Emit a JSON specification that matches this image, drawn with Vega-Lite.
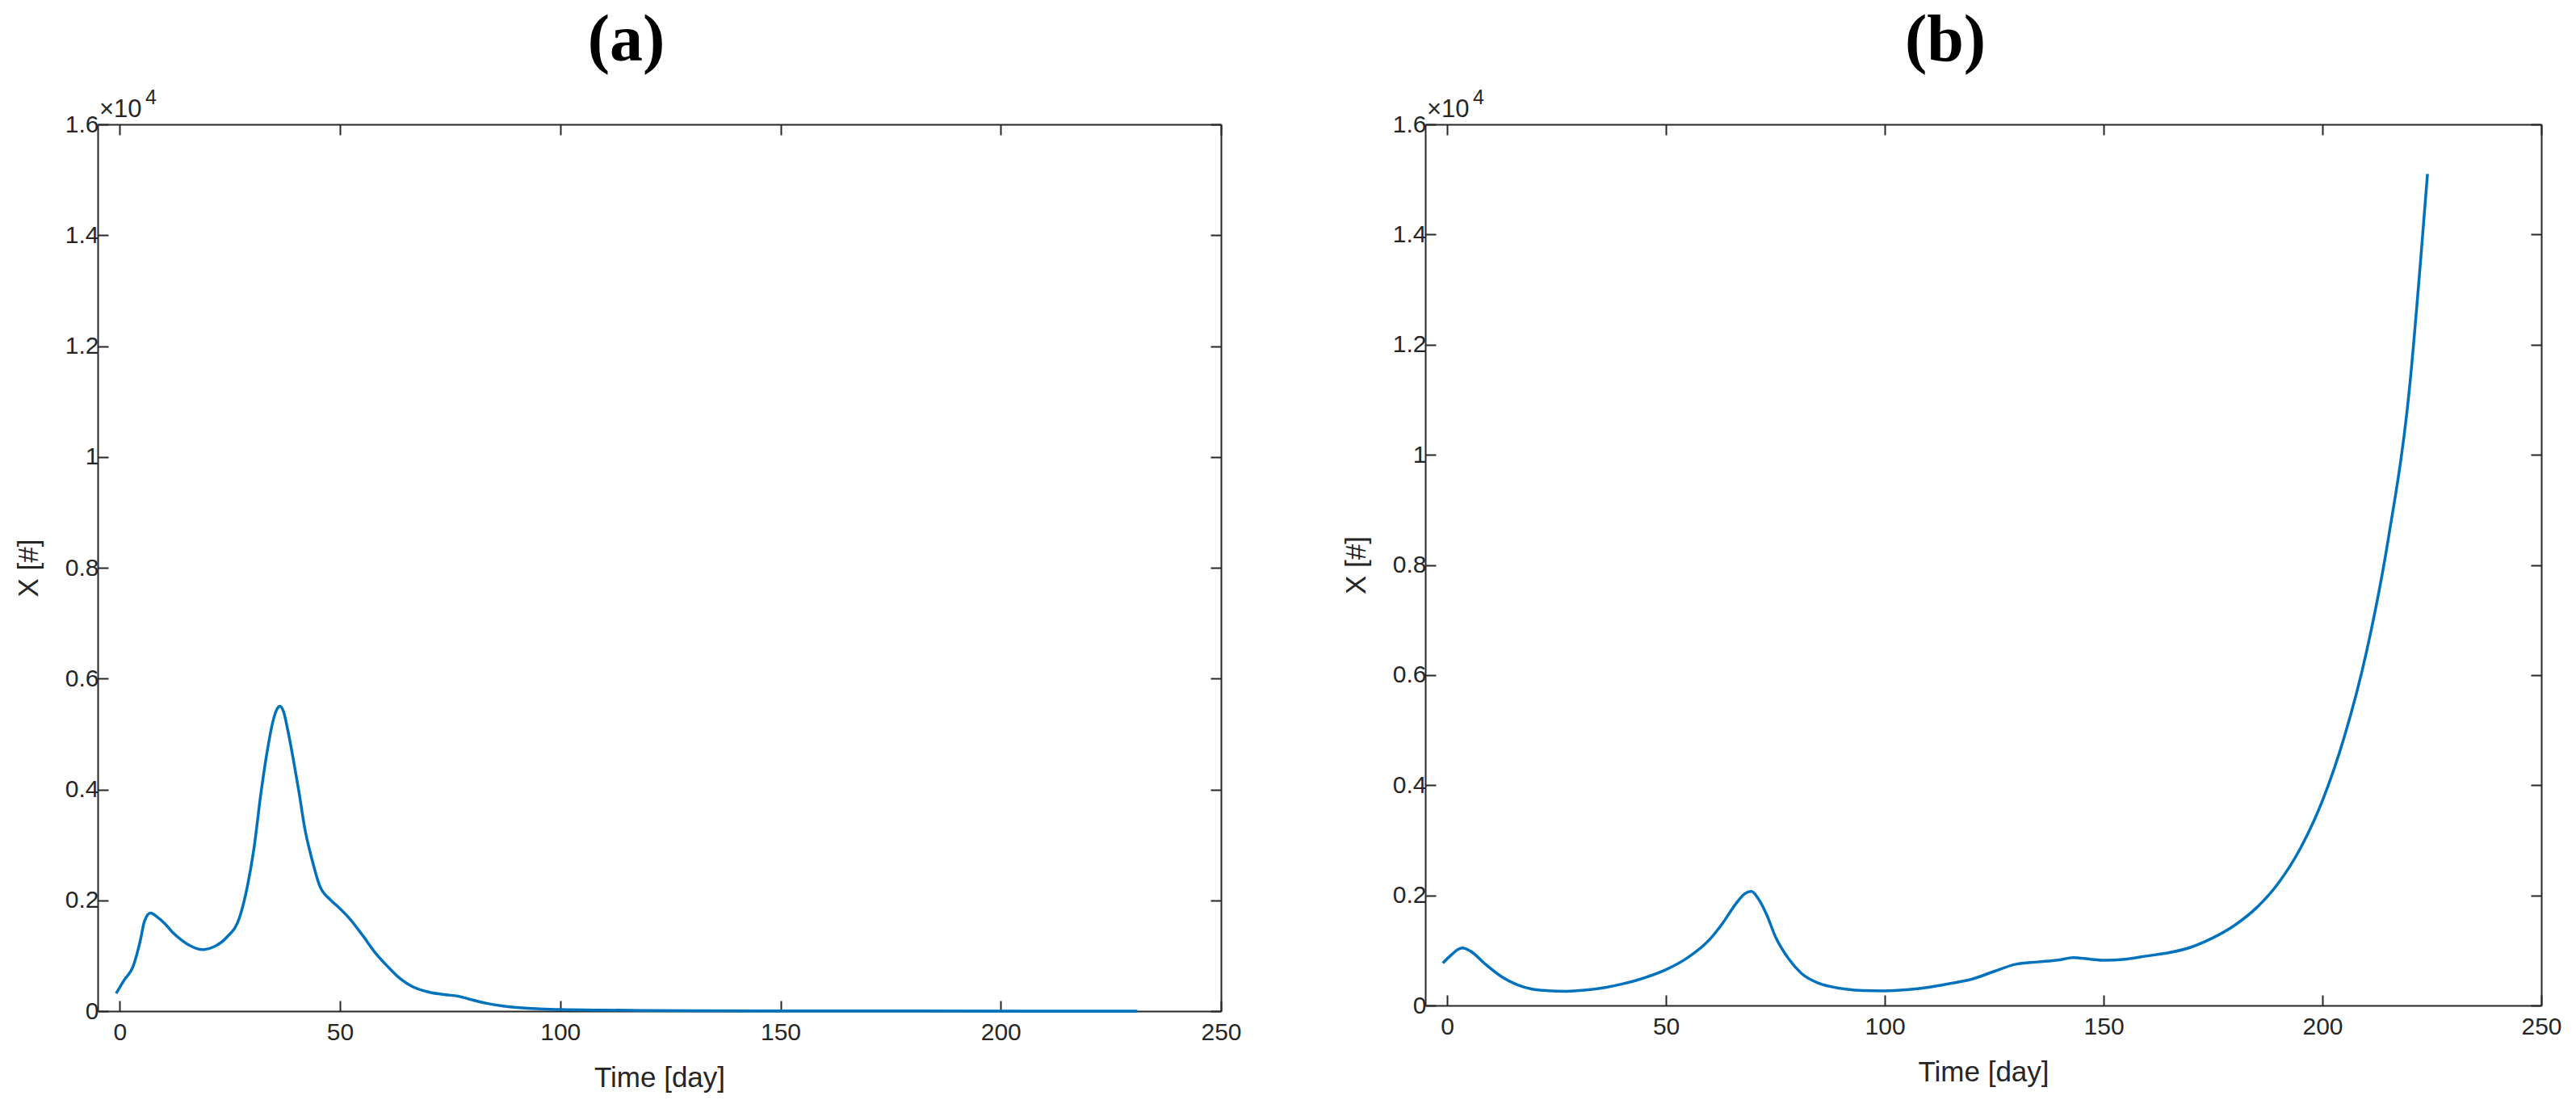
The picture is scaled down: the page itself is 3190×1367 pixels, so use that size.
{
  "$schema": "https://vega.github.io/schema/vega-lite/v6.json",
  "background": "white",
  "padding": {"left": 18, "top": 9, "right": 5, "bottom": 5},
  "config": {
    "view": {"stroke": null},
    "axis": {
      "domainColor": "#262626", "domainWidth": 2,
      "tickColor": "#262626", "tickWidth": 2, "tickSize": -13,
      "labelFont": "Liberation Sans", "labelFontSize": 30, "labelColor": "#262626",
      "labelFlush": false, "labelOverlap": false,
      "titleFont": "Liberation Sans", "titleFontSize": 35, "titleColor": "#262626", "titleFontWeight": "normal",
      "grid": false
    },
    "title": {"font": "Liberation Serif", "fontWeight": "bold", "fontSize": 82, "color": "#000000", "anchor": "middle"}
  },
  "datasets": {
    "a": [
      {"t": -0.8, "v": 320}, {"t": 1, "v": 560}, {"t": 3, "v": 800}, {"t": 4.7, "v": 1285}, {"t": 5.6, "v": 1620},
      {"t": 7, "v": 1770}, {"t": 8.5, "v": 1700}, {"t": 10.3, "v": 1575}, {"t": 12, "v": 1420}, {"t": 14, "v": 1285},
      {"t": 16, "v": 1180}, {"t": 18.7, "v": 1110}, {"t": 21.5, "v": 1165}, {"t": 24.3, "v": 1333}, {"t": 27.2, "v": 1690},
      {"t": 29, "v": 2260}, {"t": 30.5, "v": 2950}, {"t": 32, "v": 3900}, {"t": 33.5, "v": 4700}, {"t": 34.7, "v": 5200},
      {"t": 35.7, "v": 5450}, {"t": 36.4, "v": 5500}, {"t": 37.2, "v": 5400}, {"t": 38.2, "v": 5050}, {"t": 39.5, "v": 4500},
      {"t": 40.7, "v": 3950}, {"t": 42, "v": 3300}, {"t": 43.6, "v": 2750}, {"t": 45.4, "v": 2260}, {"t": 47.8, "v": 2010},
      {"t": 49.6, "v": 1880}, {"t": 52.4, "v": 1650},
      {"t": 55.2, "v": 1360}, {"t": 58.1, "v": 1045}, {"t": 60.9, "v": 800}, {"t": 63.7, "v": 585}, {"t": 66.5, "v": 440},
      {"t": 70.2, "v": 343}, {"t": 74, "v": 295}, {"t": 76.8, "v": 270}, {"t": 79.6, "v": 212}, {"t": 83.3, "v": 140},
      {"t": 87.1, "v": 92}, {"t": 90.8, "v": 63}, {"t": 94.6, "v": 43}, {"t": 100, "v": 29}, {"t": 110, "v": 18},
      {"t": 120, "v": 12}, {"t": 130, "v": 8}, {"t": 150, "v": 4}, {"t": 180, "v": 2}, {"t": 231, "v": 1}
    ],
    "b": [
      {"t": -1, "v": 770}, {"t": 1.1, "v": 930}, {"t": 2.5, "v": 1020}, {"t": 3.5, "v": 1046}, {"t": 5.3, "v": 988},
      {"t": 8.8, "v": 745}, {"t": 12.4, "v": 525}, {"t": 15.9, "v": 380}, {"t": 19.4, "v": 297}, {"t": 23, "v": 268},
      {"t": 27.2, "v": 258}, {"t": 31.4, "v": 277}, {"t": 36.4, "v": 331}, {"t": 40, "v": 390}, {"t": 45, "v": 500},
      {"t": 50, "v": 650}, {"t": 55, "v": 870}, {"t": 60, "v": 1200}, {"t": 63, "v": 1500}, {"t": 66, "v": 1850},
      {"t": 68, "v": 2030}, {"t": 69.5, "v": 2070}, {"t": 71, "v": 1950}, {"t": 73, "v": 1650}, {"t": 75, "v": 1250},
      {"t": 78, "v": 850}, {"t": 81, "v": 580}, {"t": 85, "v": 400}, {"t": 90, "v": 310}, {"t": 95, "v": 270},
      {"t": 100, "v": 265}, {"t": 105, "v": 285}, {"t": 110, "v": 330}, {"t": 115, "v": 400}, {"t": 120, "v": 480},
      {"t": 125, "v": 620}, {"t": 130, "v": 750}, {"t": 135, "v": 790}, {"t": 140, "v": 830}, {"t": 143, "v": 870},
      {"t": 147, "v": 840}, {"t": 150, "v": 820}, {"t": 155, "v": 840}, {"t": 160, "v": 900}, {"t": 165, "v": 960},
      {"t": 170, "v": 1060}, {"t": 175, "v": 1230}, {"t": 180, "v": 1460}, {"t": 185, "v": 1780}, {"t": 190, "v": 2230},
      {"t": 195, "v": 2860}, {"t": 200, "v": 3720}, {"t": 205, "v": 4880}, {"t": 210, "v": 6400}, {"t": 215, "v": 8450},
      {"t": 220, "v": 11300}, {"t": 222.5, "v": 13600}, {"t": 224, "v": 15100}
    ],
    "corner": [{"t": -5, "v": 16000}]
  },
  "spacing": 124,
  "hconcat": [
    {
      "width": 1391, "height": 1098,
      "title": {"text": "(a)", "dx": -41, "offset": 17},
      "layer": [
        {
          "data": {"name": "a"},
          "mark": {"type": "line", "color": "#0072BD", "strokeWidth": 3.5, "interpolate": "monotone"},
          "encoding": {
            "x": {"field": "t", "type": "quantitative", "scale": {"domain": [-5, 250], "nice": false, "zero": false},
                  "axis": {"values": [0, 50, 100, 150, 200, 250], "title": "Time [day]", "labelPadding": 24, "titlePadding": 24}},
            "y": {"field": "v", "type": "quantitative", "scale": {"domain": [0, 16000], "nice": false},
                  "axis": {"values": [0, 2000, 4000, 6000, 8000, 10000, 12000, 14000, 16000], "labelExpr": "format(datum.value / 10000, '~g')", "title": "X [#]", "labelPadding": 12, "titlePadding": 27}}
          }
        },
        {
          "data": {"name": "corner"},
          "mark": {"type": "text", "text": "×10", "font": "Liberation Sans", "fontSize": 31, "color": "#262626", "align": "left", "baseline": "alphabetic", "dx": 2, "dy": -9},
          "encoding": {
            "x": {"field": "t", "type": "quantitative", "axis": {"orient": "top", "values": [0, 50, 100, 150, 200, 250], "labels": false, "title": null}},
            "y": {"field": "v", "type": "quantitative", "axis": {"orient": "right", "values": [0, 2000, 4000, 6000, 8000, 10000, 12000, 14000, 16000], "labels": false, "title": null}}
          }
        },
        {
          "data": {"name": "corner"},
          "mark": {"type": "text", "text": "4", "font": "Liberation Sans", "fontSize": 25, "color": "#262626", "align": "left", "baseline": "alphabetic", "dx": 59, "dy": -25},
          "encoding": {
            "x": {"field": "t", "type": "quantitative", "axis": null},
            "y": {"field": "v", "type": "quantitative", "axis": null}
          }
        }
      ],
      "resolve": {"axis": {"x": "independent", "y": "independent"}}
    },
    {
      "width": 1382, "height": 1091,
      "title": {"text": "(b)", "dx": -47, "offset": 17},
      "layer": [
        {
          "data": {"name": "b"},
          "mark": {"type": "line", "color": "#0072BD", "strokeWidth": 3.5, "interpolate": "monotone"},
          "encoding": {
            "x": {"field": "t", "type": "quantitative", "scale": {"domain": [-5, 250], "nice": false, "zero": false},
                  "axis": {"values": [0, 50, 100, 150, 200, 250], "title": "Time [day]", "labelPadding": 24, "titlePadding": 24}},
            "y": {"field": "v", "type": "quantitative", "scale": {"domain": [0, 16000], "nice": false},
                  "axis": {"values": [0, 2000, 4000, 6000, 8000, 10000, 12000, 14000, 16000], "labelExpr": "format(datum.value / 10000, '~g')", "title": "X [#]", "labelPadding": 12, "titlePadding": 27}}
          }
        },
        {
          "data": {"name": "corner"},
          "mark": {"type": "text", "text": "×10", "font": "Liberation Sans", "fontSize": 31, "color": "#262626", "align": "left", "baseline": "alphabetic", "dx": 2, "dy": -9},
          "encoding": {
            "x": {"field": "t", "type": "quantitative", "axis": {"orient": "top", "values": [0, 50, 100, 150, 200, 250], "labels": false, "title": null}},
            "y": {"field": "v", "type": "quantitative", "axis": {"orient": "right", "values": [0, 2000, 4000, 6000, 8000, 10000, 12000, 14000, 16000], "labels": false, "title": null}}
          }
        },
        {
          "data": {"name": "corner"},
          "mark": {"type": "text", "text": "4", "font": "Liberation Sans", "fontSize": 25, "color": "#262626", "align": "left", "baseline": "alphabetic", "dx": 59, "dy": -25},
          "encoding": {
            "x": {"field": "t", "type": "quantitative", "axis": null},
            "y": {"field": "v", "type": "quantitative", "axis": null}
          }
        }
      ],
      "resolve": {"axis": {"x": "independent", "y": "independent"}}
    }
  ]
}
